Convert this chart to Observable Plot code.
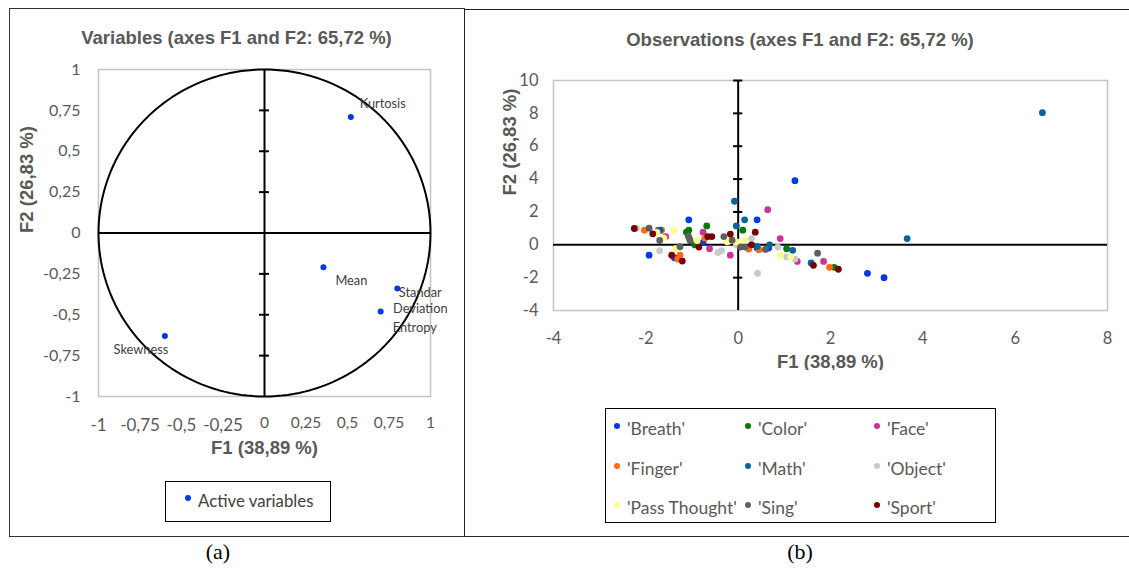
<!DOCTYPE html>
<html><head><meta charset="utf-8">
<script src="https://cdn.jsdelivr.net/npm/d3@7"></script>
<script src="https://cdn.jsdelivr.net/npm/@observablehq/plot@0.6"></script>
<style>
body{margin:0;background:#fff;}
#page{position:relative;width:1129px;height:572px;overflow:hidden;font-family:Lato,"Open Sans",sans-serif;background:#fff;}
.abs{position:absolute;box-sizing:border-box;}
.title{font-family:"Liberation Sans",Arial,sans-serif;font-weight:bold;font-size:18.5px;color:#595959;text-align:center;}
.cap{font-family:"Liberation Serif","Times New Roman",serif;font-size:22px;color:#000;text-align:center;}
.leg{border:1.5px solid #000;background:#fff;}
.item{position:absolute;font-size:17.5px;color:#595959;white-space:nowrap;line-height:20px;}
.dot{display:inline-block;width:6px;height:6px;border-radius:50%;margin-right:7px;vertical-align:middle;position:relative;top:-5px;}
</style></head><body>
<div id="page">
  <div class="abs" style="left:9px;top:8px;width:456px;height:529px;border:1.5px solid #333;"></div>
  <div class="abs" style="left:464px;top:9px;width:680px;height:528px;border:1.5px solid #222;"></div>
  <div class="abs title" style="left:9px;top:27px;width:455px;">Variables (axes F1 and F2: 65,72 %)</div>
  <div class="abs title" style="left:465px;top:29px;width:670px;">Observations (axes F1 and F2: 65,72 %)</div>
  <div id="left" class="abs" style="left:10px;top:40px;"></div>
  <div id="right" class="abs" style="left:470px;top:40px;"></div>
  <div id="legL" class="abs leg" style="left:165px;top:481px;width:166px;height:41px;"></div>
  <div id="legR" class="abs leg" style="left:605px;top:408px;width:391px;height:115px;"></div>
  <div class="abs cap" style="left:168px;top:539px;width:100px;">(a)</div>
  <div class="abs cap" style="left:750px;top:539px;width:100px;">(b)</div>
</div>
<script>
// ---------- Data: variables (correlation circle) ----------
const varNames = ["Kurtosis", "Mean", "Standar Deviation", "Entropy", "Skewness"];
const varF1 = [0.52, 0.355, 0.80, 0.70, -0.60];
const varF2 = [0.71, -0.21, -0.34, -0.48, -0.63];
const circleTicks = [-1, -0.75, -0.5, -0.25, 0, 0.25, 0.5, 0.75, 1];

// ---------- Data: observations ----------
const categories = ["'Breath'", "'Color'", "'Face'", "'Finger'", "'Math'", "'Object'", "'Pass Thought'", "'Sing'", "'Sport'"];
const breathF1 = [1.23, -1.07, 0.41, -1.93, -1.38, -0.76, 0.41, 0.66, 2.80, 3.16];
const breathF2 = [3.9, 1.52, 1.52, -0.63, -0.79, 0.14, -0.20, -0.20, -1.74, -2.0];
const colorF1 = [-1.07, -1.12, -0.94, -0.68, 0.10, 1.05, 2.08];
const colorF2 = [0.89, 0.77, 0.0, 1.15, 0.89, -0.24, -1.37];
const faceF1 = [0.64, -1.73, -1.57, -0.76, -0.62, -0.17, 0.91, 1.28, 1.85];
const faceF2 = [2.14, 0.89, 0.50, 0.77, -0.24, -0.63, 0.38, -1.01, -1.01];
const fingerF1 = [-2.03, -1.66, -1.26, -1.31, -0.72, 0.23, 0.45, 1.98];
const fingerF2 = [0.89, 0.89, -0.63, -0.87, 0.40, -0.26, -0.30, -1.37];
const mathF1 = [-0.08, 0.14, -1.69, -0.04, 0.68, 1.18, 1.58, 3.66, 6.59, 0.41];
const mathF2 = [2.65, 1.52, 0.89, 1.15, 0.0, -0.34, -1.11, 0.38, 8.04, -0.10];
const objectF1 = [-2.20, -1.70, -0.44, -0.36, 0.29, -0.04, 0.86, 1.05, 1.23, 0.42];
const objectF2 = [1.0, -0.36, -0.48, -0.36, 0.38, 0.0, -0.14, -0.74, -0.87, -1.74];
const passF1 = [-1.76, -1.61, -1.39, -1.35, -0.89, -0.24, -0.21, -0.03, 0.14, 0.91, 1.14];
const passF2 = [0.75, 0.40, 0.89, -0.24, 0.26, 0.18, 0.22, 0.18, 0.28, -0.63, -0.74];
const singF1 = [-1.93, -1.70, -1.26, -1.08, -1.06, -1.04, -0.31, -0.13, 0.05, 0.15, 0.59, 1.72];
const singF2 = [1.01, 0.26, -0.12, 0.54, 0.40, 0.25, 0.50, 0.28, -0.14, -0.14, -0.28, -0.51];
const sportF1 = [-2.25, -1.85, -1.44, -1.21, -0.66, -0.57, -0.85, -0.17, 0.37, 0.29, 1.63, 2.17];
const sportF2 = [0.99, 0.67, -0.63, -0.99, 0.50, 0.50, -0.14, 0.65, 0.77, 0.0, -1.25, -1.49];
const obsXTicks = [-4, -2, 0, 2, 4, 6, 8];
const obsYTicks = [-4, -2, 0, 2, 4, 6, 8, 10];

// ---------- Styles ----------
const activeColor = "#0039e6";
const catColors = ["#0039e6", "#007a00", "#cc3399", "#ff6a13", "#006699", "#c9c9c9", "#ffff8c", "#5f5f5f", "#7a0000"];
const fmt = d => String(d).replace(".", ",");
const grey = "#595959";
const boldFont = "Liberation Sans, Arial, sans-serif";

// ---------- Left chart ----------
const varRows = varNames.map((n, i) => ({name: n, f1: varF1[i], f2: varF2[i]}));
// unit correlation circle (geometric reference, not data)
const circle = d3.range(0, 361, 2).map(a => ({x: Math.cos(a * Math.PI / 180), y: Math.sin(a * Math.PI / 180)}));
const labelOpts = [
  {dx: 9, dy: -14, textAnchor: "start"},
  {dx: 12, dy: 13, textAnchor: "start"},
  {dx: 23, dy: 11, textAnchor: "middle"},
  {dx: 12, dy: 15, textAnchor: "start"},
  {dx: -24, dy: 13, textAnchor: "middle"}
];
const leftPlot = Plot.plot({
  width: 450, height: 420,
  marginLeft: 88, marginRight: 30, marginTop: 29, marginBottom: 64,
  style: {color: grey, fontFamily: "Lato, sans-serif", background: "transparent"},
  x: {domain: [-1, 1]},
  y: {domain: [-1, 1]},
  marks: [
    Plot.frame({stroke: "#c4c4c4", strokeWidth: 1.5}),
    Plot.axisX(circleTicks.filter(d => d < 0), {tickSize: 0, tickPadding: 22, tickFormat: fmt, fontSize: 17, label: null}),
    Plot.axisX(circleTicks.filter(d => d >= 0), {tickSize: 0, tickPadding: 20, tickFormat: fmt, fontSize: 15.5, label: null}),
    Plot.axisY(circleTicks, {tickSize: 0, tickPadding: 18, tickFormat: fmt, fontSize: 16, label: null}),
    Plot.line(circle, {x: "x", y: "y", stroke: "#000", strokeWidth: 2}),
    Plot.ruleX([0], {stroke: "#000", strokeWidth: 2}),
    Plot.ruleY([0], {stroke: "#000", strokeWidth: 2}),
    Plot.ruleY(circleTicks.filter(d => d !== 0 && Math.abs(d) !== 1), {y: d => d, x1: -0.03, x2: 0.03, stroke: "#000", strokeWidth: 2}),
    Plot.dot(varRows, {x: "f1", y: "f2", r: 3, fill: activeColor}),
    ...varRows.map((row, i) => Plot.text([row], {
      x: "f1", y: "f2", text: d => d.name.replace(" ", "\n"),
      fill: "#404040", fontSize: 12.8, lineHeight: 1.25, ...labelOpts[i]
    })),
    Plot.text(["F1 (38,89 %)"], {frameAnchor: "bottom", dy: 57, fontWeight: "bold", fontSize: 18.5, fill: grey, fontFamily: boldFont}),
    Plot.text(["F2 (26,83 %)"], {frameAnchor: "left", dx: -71, rotate: -90, fontWeight: "bold", fontSize: 18.5, fill: grey, fontFamily: boldFont})
  ]
});
document.getElementById("left").appendChild(leftPlot);

// ---------- Right chart ----------
const f1Lists = [breathF1, colorF1, faceF1, fingerF1, mathF1, objectF1, passF1, singF1, sportF1];
const f2Lists = [breathF2, colorF2, faceF2, fingerF2, mathF2, objectF2, passF2, singF2, sportF2];
const obsRows = [];
categories.forEach((c, i) => f1Lists[i].forEach((x, j) => obsRows.push({cat: c, f1: x, f2: f2Lists[i][j]})));

const rightPlot = Plot.plot({
  width: 655, height: 330,
  marginLeft: 83, marginRight: 18, marginTop: 40, marginBottom: 60,
  style: {color: grey, fontFamily: "Lato, sans-serif", background: "transparent"},
  x: {domain: [-4, 8]},
  y: {domain: [-4, 10]},
  color: {domain: categories, range: catColors},
  marks: [
    Plot.frame({stroke: "#c4c4c4", strokeWidth: 1.5}),
    Plot.axisX(obsXTicks, {tickSize: 0, tickPadding: 22, tickFormat: fmt, fontSize: 16.5, label: null}),
    Plot.axisY(obsYTicks, {tickSize: 0, tickPadding: 15, tickFormat: fmt, fontSize: 16.5, label: null}),
    Plot.ruleX([0], {stroke: "#000", strokeWidth: 2}),
    Plot.ruleY([0], {stroke: "#000", strokeWidth: 2}),
    Plot.ruleY(obsYTicks.filter(d => d !== 0 && d !== -4), {y: d => d, x1: -0.1, x2: 0.1, stroke: "#000", strokeWidth: 2}),
    Plot.dot(obsRows, {x: "f1", y: "f2", r: 3.4, fill: "cat"}),
    Plot.text(["F1 (38,89 %)"], {frameAnchor: "bottom", dy: 57, fontWeight: "bold", fontSize: 18.5, fill: grey, fontFamily: boldFont}),
    Plot.text(["F2 (26,83 %)"], {frameAnchor: "left", dx: -43, rotate: -90, fontWeight: "bold", fontSize: 18.5, fill: grey, fontFamily: boldFont})
  ]
});
document.getElementById("right").appendChild(rightPlot);

// ---------- Legends ----------
const legL = document.getElementById("legL");
legL.innerHTML = `<div class="item" style="left:19px;top:9px;color:#404040;font-size:16.8px;"><span class="dot" style="background:${activeColor}"></span>Active variables</div>`;

const legR = document.getElementById("legR");
const colX = [8, 139, 268];
const rowY = [10, 50, 89];
categories.forEach((c, i) => {
  const d = document.createElement("div");
  d.className = "item";
  d.style.left = colX[i % 3] + "px";
  d.style.top = rowY[Math.floor(i / 3)] + "px";
  d.innerHTML = `<span class="dot" style="background:${catColors[i]}"></span>${c}`;
  legR.appendChild(d);
});
</script>
</body></html>
